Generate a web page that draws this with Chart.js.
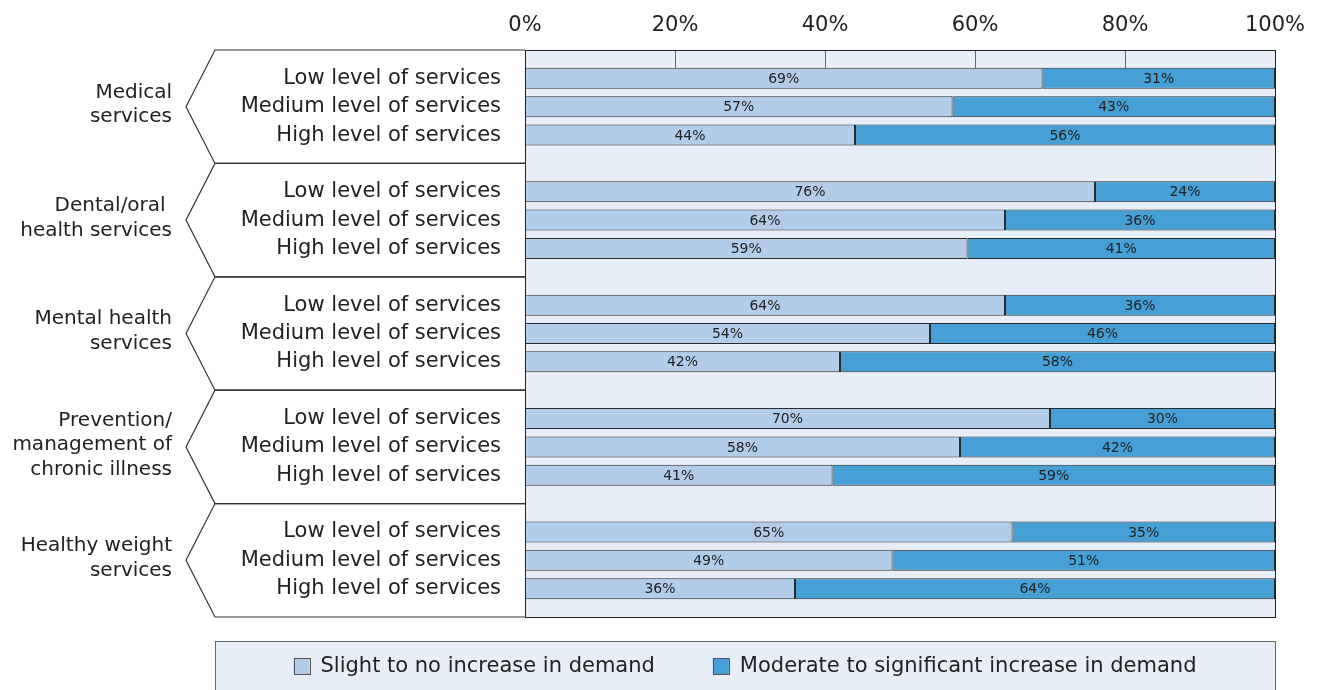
<!DOCTYPE html>
<html lang="en">
<head>
    <meta charset="UTF-8">
    <script src="https://cdn.jsdelivr.net/npm/chart.js@4.4.0/dist/chart.umd.min.js"></script>
    <title>Demand by level of services</title>
    <style>
        body { margin: 0; background: #fff; }
        #wrap { width: 1318px; height: 690px; }
    </style>
</head>
<body>
    <div id="wrap"><canvas id="myChart" width="1318" height="690"></canvas></div>
    <script>

        var groups = [
            ['Medical', 'services'],
            ['Dental/oral ', 'health services'],
            ['Mental health', 'services'],
            ['Prevention/', 'management of', 'chronic illness'],
            ['Healthy weight', 'services']
        ];
        var levels = ['Low level of services', 'Medium level of services', 'High level of services'];
        var slight   = [69, 57, 44,  76, 64, 59,  64, 54, 42,  70, 58, 41,  65, 49, 36];
        var moderate = [31, 43, 56,  24, 36, 41,  36, 46, 58,  30, 42, 59,  35, 51, 64];
        var xTicks = [0, 20, 40, 60, 80, 100];
        var seriesNames = ['Slight to no increase in demand', 'Moderate to significant increase in demand'];

        var FONT = '"DejaVu Sans", sans-serif';
        var lightBlue = '#b3cde8';
        var darkBlue = '#469fd5';
        var panelBg = '#e7eef7';
        var bracketX = 215;
        var tipX = 186;

        // category rows: blank slot between groups, bars in between
        var labels = [''];
        var slightData = [null];
        var moderateData = [null];
        groups.forEach(function (g, gi) {
            levels.forEach(function (lv, li) {
                labels.push(lv);
                slightData.push(slight[gi * 3 + li]);
                moderateData.push(moderate[gi * 3 + li]);
            });
            labels.push('');
            slightData.push(null);
            moderateData.push(null);
        });

        var panelPlugin = {
            id: 'panel',
            beforeDatasetsDraw: function (chart) {
                var a = chart.chartArea, ctx = chart.ctx;
                ctx.save();
                ctx.fillStyle = panelBg;
                ctx.fillRect(a.left, a.top, a.right - a.left, a.bottom - a.top);
                // short tick marks in the top gap
                var first = chart.getDatasetMeta(0).data[1];
                var barTop = first.y - first.height / 2;
                ctx.strokeStyle = '#666';
                ctx.lineWidth = 1;
                xTicks.slice(1, -1).forEach(function (v) {
                    var x = Math.round(chart.scales.x.getPixelForValue(v)) + 0.5;
                    ctx.beginPath();
                    ctx.moveTo(x, a.top);
                    ctx.lineTo(x, barTop);
                    ctx.stroke();
                });
                ctx.restore();
            },
            afterDatasetsDraw: function (chart) {
                var a = chart.chartArea, ctx = chart.ctx;
                ctx.save();
                // value labels
                ctx.font = '14px ' + FONT;
                ctx.fillStyle = '#222';
                ctx.textAlign = 'center';
                ctx.textBaseline = 'middle';
                chart.data.datasets.forEach(function (ds, di) {
                    chart.getDatasetMeta(di).data.forEach(function (el, i) {
                        var v = ds.data[i];
                        if (v == null) return;
                        ctx.fillText(v + '%', (el.x + el.base) / 2, el.y + 1);
                    });
                });
                // panel border
                ctx.strokeStyle = '#222';
                ctx.lineWidth = 1;
                ctx.strokeRect(Math.round(a.left) + 0.5, Math.round(a.top) + 0.5,
                    Math.round(a.right - a.left), Math.round(a.bottom - a.top));

                // group brackets and names
                var y = chart.scales.y;
                ctx.strokeStyle = '#333';
                ctx.lineWidth = 1.2;
                ctx.font = '20px ' + FONT;
                ctx.textAlign = 'right';
                groups.forEach(function (g, gi) {
                    var yt = Math.max(y.getPixelForValue(gi * 4), a.top);
                    var yb = y.getPixelForValue(gi * 4 + 4);
                    var ym = (yt + yb) / 2;
                    ctx.beginPath();
                    ctx.moveTo(a.left, yt);
                    ctx.lineTo(bracketX, yt);
                    ctx.lineTo(tipX, ym);
                    ctx.lineTo(bracketX, yb);
                    ctx.lineTo(a.left, yb);
                    ctx.stroke();
                    var lh = 24.5;
                    var y0 = ym - (g.length - 1) * lh / 2 - 2;
                    g.forEach(function (line, li) {
                        ctx.fillText(line, 172, y0 + li * lh);
                    });
                });

                // legend box
                var top = a.bottom + 24;
                ctx.fillStyle = panelBg;
                ctx.fillRect(bracketX, top, a.right - bracketX, chart.height - top + 2);
                ctx.strokeStyle = '#666';
                ctx.lineWidth = 1;
                ctx.strokeRect(bracketX + 0.5, top + 0.5, a.right - bracketX, chart.height - top + 2);
                ctx.font = '21px ' + FONT;
                ctx.textAlign = 'left';
                var box = 16, gapText = 11, gapItem = 58;
                var widths = seriesNames.map(function (s) { return ctx.measureText(s).width; });
                var total = box * 2 + gapText * 2 + widths[0] + widths[1] + gapItem;
                var x = (bracketX + a.right) / 2 - total / 2;
                var cy = top + 25;
                [lightBlue, darkBlue].forEach(function (c, i) {
                    ctx.fillStyle = c;
                    ctx.fillRect(x, cy - box / 2, box, box);
                    ctx.strokeStyle = '#555';
                    ctx.strokeRect(Math.round(x) + 0.5, Math.round(cy - box / 2) + 0.5, box, box);
                    ctx.fillStyle = '#222';
                    ctx.fillText(seriesNames[i], x + box + gapText, cy + 1);
                    x += box + gapText + widths[i] + gapItem;
                });
                ctx.restore();
            }
        };

        function chartIt()
        {
            var ctx = document.getElementById('myChart').getContext('2d');
            var myChart = new Chart(ctx, {
                type: 'bar',
                data: {
                    labels: labels,
                    datasets: [{
                        label: seriesNames[0],
                        data: slightData,
                        backgroundColor: lightBlue,
                        borderColor: '#2a2a2a',
                        borderWidth: 1,
                        borderSkipped: false
                    }, {
                        label: seriesNames[1],
                        data: moderateData,
                        backgroundColor: darkBlue,
                        borderColor: '#2a2a2a',
                        borderWidth: 1,
                        borderSkipped: false
                    }]
                },
                options: {
                    indexAxis: 'y',
                    responsive: false,
                    animation: false,
                    datasets: {
                        bar: { categoryPercentage: 1, barPercentage: 0.74 }
                    },
                    layout: {
                        padding: { left: 215, right: 43, top: 0, bottom: 73 }
                    },
                    plugins: {
                        legend: { display: false },
                        tooltip: { enabled: false }
                    },
                    scales: {
                        x: {
                            position: 'top',
                            stacked: true,
                            min: 0,
                            max: 100,
                            afterBuildTicks: function (s) {
                                s.ticks = xTicks.map(function (v) { return { value: v }; });
                            },
                            afterFit: function (s) { s.height = 50; },
                            ticks: {
                                callback: function (v) { return v + '%'; },
                                font: { family: FONT, size: 21 },
                                color: '#222',
                                padding: 12,
                                maxRotation: 0
                            },
                            grid: { display: false, drawTicks: false },
                            border: { display: false }
                        },
                        y: {
                            stacked: true,
                            offset: false,
                            afterFit: function (s) { s.width = 310; },
                            ticks: {
                                font: { family: FONT, size: 21 },
                                color: '#222',
                                padding: 24,
                                autoSkip: false
                            },
                            grid: { display: false, drawTicks: false },
                            border: { display: false }
                        }
                    }
                },
                plugins: [panelPlugin]
            });
        }

        chartIt();
    </script>
</body>
</html>
